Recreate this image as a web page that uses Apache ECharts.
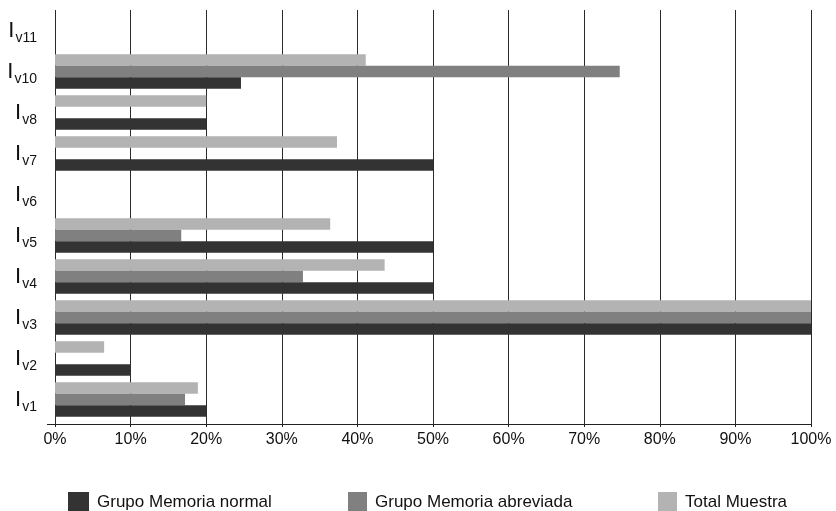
<!DOCTYPE html>
<html>
<head>
<meta charset="utf-8">
<script src="https://cdn.jsdelivr.net/npm/echarts@6/dist/echarts.min.js"></script>
<style>
html,body{margin:0;padding:0;background:#fff;}
#main{width:836px;height:511px;}
</style>
</head>
<body>
<div id="main"></div>
<script>
var categories = ['Iv1','Iv2','Iv3','Iv4','Iv5','Iv6','Iv7','Iv8','Iv10','Iv11'];
var seriesNames = ['Grupo Memoria normal','Grupo Memoria abreviada','Total Muestra'];
var memoriaNormal    = [20, 10, 100, 50, 50, null, 50, 20, 24.6, null];
var memoriaAbreviada = [17.2, null, 100, 32.8, 16.7, null, null, null, 74.7, null];
var totalMuestra     = [18.9, 6.5, 100, 43.6, 36.4, null, 37.3, 20, 41.1, null];
var xTicks = [0,10,20,30,40,50,60,70,80,90,100];
var colors = ['#333333','#808080','#b3b3b3'];
var FONT = '"Liberation Sans", Arial, sans-serif';

var chart = echarts.init(document.getElementById('main'));
var option = {
  backgroundColor: '#ffffff',
  animation: false,
  grid: [
    {left: 55, right: 25, top: 10, bottom: 87},
    {left: 55, right: 25, top: 10, bottom: 91}
  ],
  xAxis: [
    {
      gridIndex: 0, type: 'value', min: xTicks[0], max: xTicks[xTicks.length-1], interval: 10,
      axisLine: {show: true, lineStyle: {color: '#222', width: 1}},
      axisTick: {show: true, length: 3, lineStyle: {color: '#222'}},
      axisLabel: {formatter: '{value}%', fontFamily: FONT, fontSize: 16, color: '#111', margin: 8},
      splitLine: {show: true, lineStyle: {color: '#2a2a2a', width: 1}}
    },
    {
      gridIndex: 1, type: 'value', min: 0, max: 100, interval: 10,
      show: false
    }
  ],
  yAxis: [
    {
      gridIndex: 0, type: 'category', data: categories, show: false
    },
    {
      gridIndex: 1, type: 'category', data: categories,
      axisLine: {show: false},
      axisTick: {show: false},
      splitLine: {show: false},
      axisLabel: {
        margin: 18,
        formatter: function (v) { return '{a|' + v.charAt(0) + '}{b|' + v.slice(1) + '}'; },
        rich: {
          a: {fontFamily: FONT, fontSize: 22, color: '#111', lineHeight: 22},
          b: {fontFamily: FONT, fontSize: 14, color: '#111', lineHeight: 14, padding: [16, 0, 0, 1]}
        }
      }
    }
  ],
  legend: [
    {data: [seriesNames[0]], left: 68, top: 492, padding: 0, itemWidth: 21, itemHeight: 20, icon: 'rect',
     textStyle: {fontFamily: FONT, fontSize: 17, color: '#111', padding: [0,0,0,3]}},
    {data: [seriesNames[1]], left: 348, top: 492, padding: 0, itemWidth: 19, itemHeight: 20, icon: 'rect',
     textStyle: {fontFamily: FONT, fontSize: 17, color: '#111', padding: [0,0,0,3]}},
    {data: [seriesNames[2]], left: 658, top: 492, padding: 0, itemWidth: 19, itemHeight: 20, icon: 'rect',
     textStyle: {fontFamily: FONT, fontSize: 17, color: '#111', padding: [0,0,0,3]}}
  ],
  graphic: [
    {type: 'line', shape: {x1: 47, y1: 424.5, x2: 55, y2: 424.5}, style: {stroke: '#222', lineWidth: 1}}
  ],
  series: [
    {name: seriesNames[2], type: 'bar', xAxisIndex: 1, yAxisIndex: 1, data: totalMuestra,
     itemStyle: {color: colors[2]}, barGap: '0%', barCategoryGap: '16%'},
    {name: seriesNames[1], type: 'bar', xAxisIndex: 1, yAxisIndex: 1, data: memoriaAbreviada,
     itemStyle: {color: colors[1]}, barGap: '0%', barCategoryGap: '16%'},
    {name: seriesNames[0], type: 'bar', xAxisIndex: 1, yAxisIndex: 1, data: memoriaNormal,
     itemStyle: {color: colors[0]}, barGap: '0%', barCategoryGap: '16%'}
  ]
};
chart.setOption(option);
</script>
</body>
</html>
